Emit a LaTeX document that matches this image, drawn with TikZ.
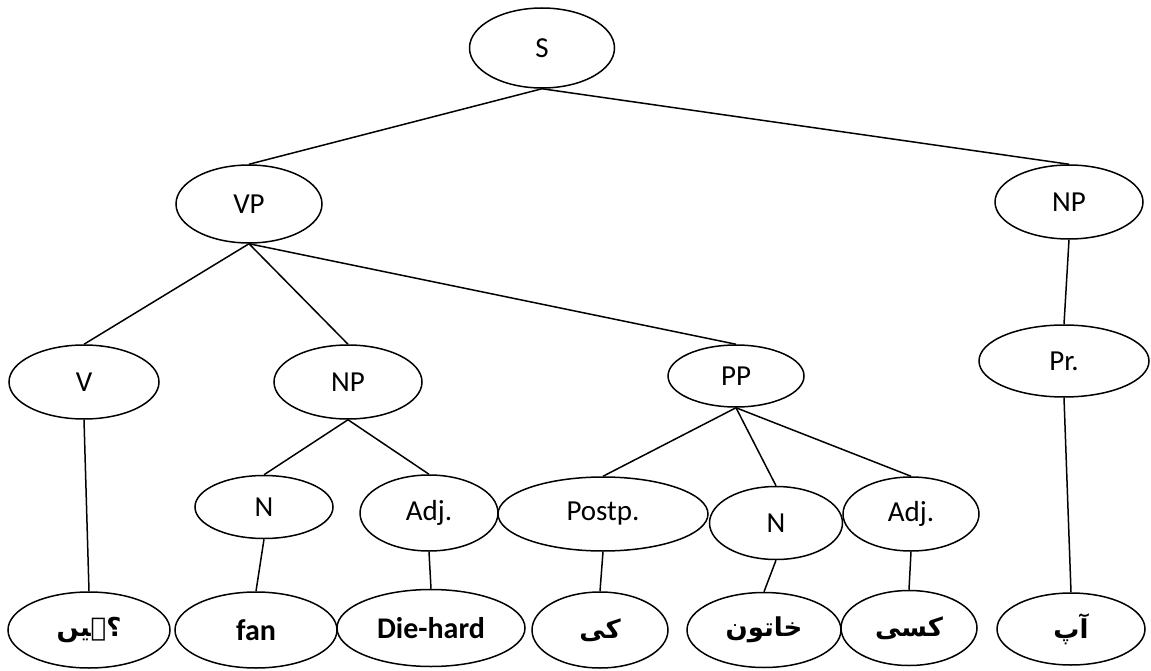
\documentclass[tikz,border=0pt]{standalone}
\usepackage{fontspec}
\setmainfont{Carlito}
\newfontfamily\urdu[Script=Arabic]{DejaVu Sans}
\TeXXeTstate=1
\usetikzlibrary{shapes.geometric}

\begin{document}
\begin{tikzpicture}[x=1pt,y=-1pt,
  cat/.style={draw, ellipse, line width=1.5pt, inner sep=0pt,
    font=\fontsize{29}{32}\selectfont},
  leaf/.style={cat, font=\fontsize{30}{34}\selectfont\bfseries},
  uleaf/.style={cat, font=\urdu\fontsize{26}{30}\selectfont\bfseries},
  edge/.style={line width=1.5pt}]
\useasboundingbox (0,0) rectangle (1151,671);

% phrase-level categories
\node[cat, minimum width=145pt, minimum height=80pt] (S)   at (542,48)  {S};
\node[cat, minimum width=146pt, minimum height=78pt] (VP)  at (249,204) {VP};
\node[cat, minimum width=148pt, minimum height=74pt] (NPr) at (1069,202) {NP};
\node[cat, minimum width=150pt, minimum height=74pt] (V)   at (84,382)  {V};
\node[cat, minimum width=148pt, minimum height=74pt] (NPm) at (348,382) {NP};
\node[cat, minimum width=136pt, minimum height=62pt] (PP)  at (736,376) {PP};
\node[cat, minimum width=170pt, minimum height=72pt] (Pr)  at (1064,361) {Pr.};

% word-level categories
\node[cat, minimum width=138pt, minimum height=63pt] (N1)   at (264,507) {N};
\node[cat, minimum width=138pt, minimum height=76pt] (Adj1) at (429,513) {Adj.};
\node[cat, minimum width=210pt, minimum height=74pt] (Pst)  at (603,514) {Postp.};
\node[cat, minimum width=133pt, minimum height=73pt] (N2)   at (776,523) {N};
\node[cat, minimum width=136pt, minimum height=74pt] (Adj2) at (911,514) {Adj.};

% words
\node[uleaf, minimum width=162pt, minimum height=76pt] (w1) at (89,630)  {\beginR ہیں\endR؟};
\node[leaf,  minimum width=162pt, minimum height=76pt] (w2) at (256,630) {fan};
\node[leaf,  minimum width=188pt, minimum height=77pt] (w3) at (431,628) {Die-hard};
\node[uleaf, minimum width=136pt, minimum height=76pt] (w4) at (600,630) {\beginR کی\endR};
\node[uleaf, minimum width=154pt, minimum height=75pt] (w5) at (764,630) {\beginR خاتون\endR};
\node[uleaf, minimum width=136pt, minimum height=75pt] (w6) at (909,628) {\beginR کسی\endR};
\node[uleaf, minimum width=148pt, minimum height=72pt] (w7) at (1071,629) {\beginR آپ\endR};

% branches
\draw[edge] (S.south) -- (VP.north);
\draw[edge] (S.south) -- (NPr.north);
\draw[edge] (VP.south) -- (V.north);
\draw[edge] (VP.south) -- (NPm.north);
\draw[edge] (VP.south) -- (PP.north);
\draw[edge] (NPr.south) -- (Pr.north);
\draw[edge] (NPm.south) -- (N1.north);
\draw[edge] (NPm.south) -- (Adj1.north);
\draw[edge] (PP.south) -- (Pst.north);
\draw[edge] (PP.south) -- (N2.north);
\draw[edge] (PP.south) -- (Adj2.north);
\draw[edge] (V.south) -- (w1.north);
\draw[edge] (N1.south) -- (w2.north);
\draw[edge] (Adj1.south) -- (w3.north);
\draw[edge] (Pst.south) -- (w4.north);
\draw[edge] (N2.south) -- (w5.north);
\draw[edge] (Adj2.south) -- (w6.north);
\draw[edge] (Pr.south) -- (w7.north);
\end{tikzpicture}
\end{document}
